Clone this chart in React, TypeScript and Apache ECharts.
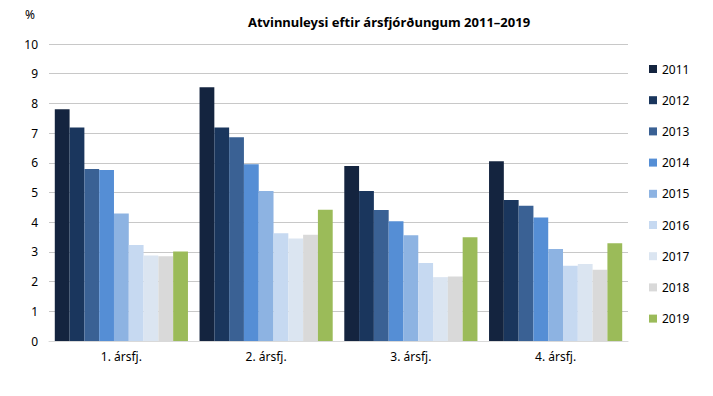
import React, { useEffect, useRef } from "react";
import * as echarts from "echarts";

const categories = ["1. ársfj.", "2. ársfj.", "3. ársfj.", "4. ársfj."];
const years = ["2011", "2012", "2013", "2014", "2015", "2016", "2017", "2018", "2019"];
const v2011 = [7.8, 8.54, 5.89, 6.05];
const v2012 = [7.19, 7.19, 5.05, 4.75];
const v2013 = [5.79, 6.86, 4.41, 4.55];
const v2014 = [5.76, 5.95, 4.03, 4.16];
const v2015 = [4.29, 5.05, 3.56, 3.1];
const v2016 = [3.23, 3.63, 2.63, 2.53];
const v2017 = [2.88, 3.45, 2.15, 2.59];
const v2018 = [2.85, 3.58, 2.17, 2.4];
const v2019 = [3.01, 4.42, 3.49, 3.29];
const seriesValues = [v2011, v2012, v2013, v2014, v2015, v2016, v2017, v2018, v2019];
const colors = ["#14243f", "#1a365d", "#3a6194", "#558ed5", "#8db3e2", "#c6d9f1", "#dbe5f1", "#d9d9d9", "#9bbb59"];

const FONT = "'Noto Sans', sans-serif";

export default function App() {
  const ref = useRef<HTMLDivElement>(null);
  useEffect(() => {
    document.body.style.margin = "0";
    const chart = echarts.init(ref.current!, null, { renderer: "svg" });
    chart.setOption({
      animation: false,
      backgroundColor: "#ffffff",
      title: {
        text: "Atvinnuleysi eftir ársfjórðungum 2011–2019",
        left: 384,
        textAlign: "center",
        top: 10,
        textStyle: { fontFamily: FONT, fontSize: 13, fontWeight: "bold", color: "#000" },
      },
      legend: {
        orient: "vertical",
        left: 644,
        top: 57,
        itemWidth: 8,
        itemHeight: 8,
        itemGap: 17.2,
        icon: "rect",
        data: years,
        textStyle: { fontFamily: FONT, fontSize: 12, color: "#000", lineHeight: 14 },
      },
      grid: { left: 49, right: 85, top: 44, bottom: 55 },
      xAxis: {
        type: "category",
        data: categories,
        axisLine: { lineStyle: { color: "#d9d9d9" } },
        axisTick: { show: false },
        axisLabel: { fontFamily: FONT, fontSize: 12, color: "#000", margin: 9 },
      },
      yAxis: {
        type: "value",
        min: 0,
        max: 10,
        interval: 1,
        name: "%",
        nameLocation: "end",
        nameGap: 24,
        nameTextStyle: { fontFamily: FONT, fontSize: 12, color: "#000", align: "right", padding: [0, 14, 0, 0] },
        axisLine: { show: false },
        axisTick: { show: false },
        axisLabel: { fontFamily: FONT, fontSize: 12, color: "#000", margin: 11 },
        splitLine: { lineStyle: { color: "#c8c8c8" } },
      },
      series: years.map((y, i) => ({
        name: y,
        type: "bar",
        data: seriesValues[i],
        barGap: "0%",
        barCategoryGap: "8%",
        itemStyle: { color: colors[i] },
      })),
    });
    return () => chart.dispose();
  }, []);
  return <div ref={ref} style={{ width: 713, height: 396 }} />;
}
